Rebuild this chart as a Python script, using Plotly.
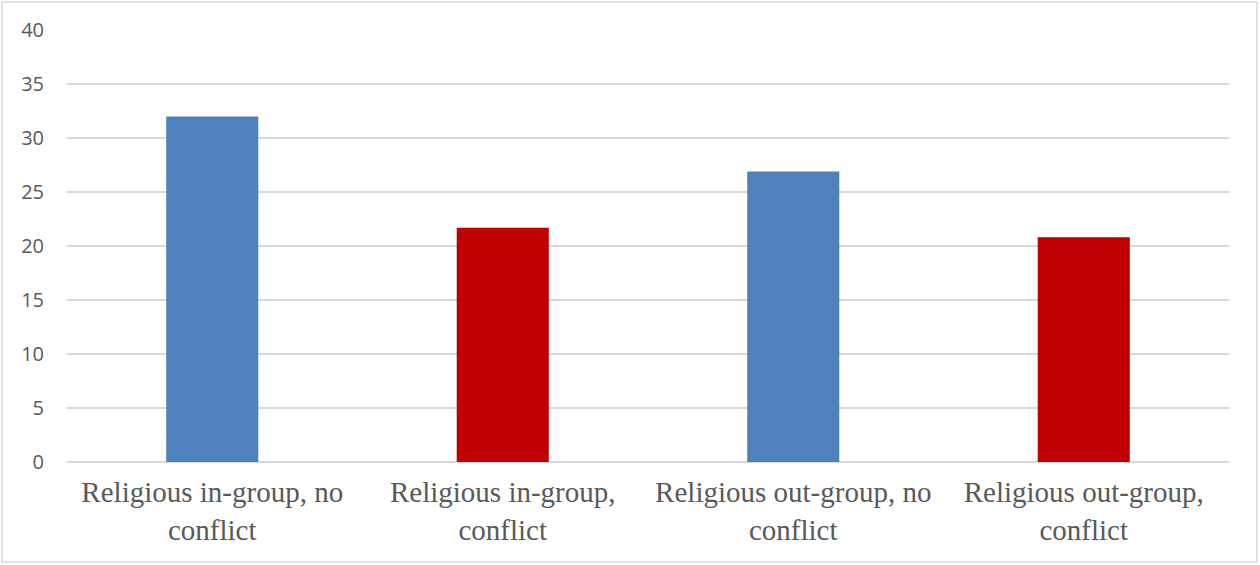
import plotly.graph_objects as go

categories = [
    "Religious in-group, no<br>conflict",
    "Religious in-group,<br>conflict",
    "Religious out-group, no<br>conflict",
    "Religious out-group,<br>conflict",
]
values = [32.0, 21.7, 26.9, 20.8]
bar_colors = ["#4F81BD", "#C00000", "#4F81BD", "#C00000"]
y_ticks = [0, 5, 10, 15, 20, 25, 30, 35, 40]

W, H = 1260, 565
ML, MR, MT, MB = 67, 31, 30, 103

fig = go.Figure(
    go.Bar(
        x=categories,
        y=values,
        marker=dict(color=bar_colors, line=dict(width=0)),
        hoverinfo="x+y",
    )
)

fig.update_layout(
    width=W,
    height=H,
    margin=dict(l=ML, r=MR, t=MT, b=MB, autoexpand=False),
    paper_bgcolor="white",
    plot_bgcolor="white",
    bargap=0.683,
    showlegend=False,
    xaxis=dict(
        tickfont=dict(family="Liberation Serif", size=29, color="#595959"),
        showline=False,
        showgrid=False,
        ticks="",
        ticklabelstandoff=10,
    ),
    yaxis=dict(
        range=[0, 40],
        tickvals=y_ticks,
        tickfont=dict(family="Open Sans", size=20, color="#595959"),
        showgrid=True,
        gridcolor="#D9D9D9",
        gridwidth=1.5,
        zeroline=True,
        zerolinecolor="#D9D9D9",
        zerolinewidth=1.5,
        showline=False,
        ticks="",
        ticklabelstandoff=22,
    ),
)

# Thin outer frame around the whole chart area
pw, ph = W - ML - MR, H - MT - MB
fig.add_shape(
    type="rect",
    xref="paper",
    yref="paper",
    x0=(2 - ML) / pw,
    x1=(W - 3 - ML) / pw,
    y0=-(H - 3 - MT - ph) / ph,
    y1=1 + (MT - 2) / ph,
    line=dict(color="#D9D9D9", width=1.5),
    fillcolor="rgba(0,0,0,0)",
    layer="below",
)

fig.write_html("out.html")
